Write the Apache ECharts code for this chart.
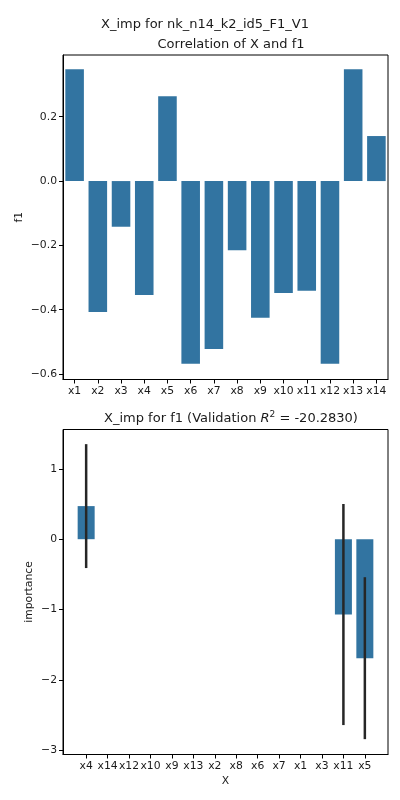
<!DOCTYPE html>
<html>
<head>
<meta charset="utf-8">
<script src="https://cdn.jsdelivr.net/npm/echarts@6/dist/echarts.min.js"></script>
<style>
  html, body { margin: 0; padding: 0; background: #fff; }
  #chart { width: 400px; height: 800px; }
</style>
</head>
<body>
<div id="chart"></div>
<script>
/* Two stacked panels: correlation bars and importance bars with error bars. */
const corrCats = ["x1", "x2", "x3", "x4", "x5", "x6", "x7", "x8", "x9", "x10", "x11", "x12", "x13", "x14"];
const corrValues = [0.348, -0.407, -0.142, -0.354, 0.264, -0.568, -0.522, -0.215, -0.425, -0.348, -0.341, -0.568, 0.348, 0.140];
const corrTicks = [-0.6, -0.4, -0.2, 0.0, 0.2];

const impCats = ["x4", "x14", "x12", "x10", "x9", "x13", "x2", "x8", "x6", "x7", "x1", "x3", "x11", "x5"];
const impMeans = [0.47, 0, 0, 0, 0, 0, 0, 0, 0, 0, 0, 0, -1.07, -1.69];
const impErrs = [0.88, 0, 0, 0, 0, 0, 0, 0, 0, 0, 0, 0, 1.57, 1.15];
const impTicks = [-3, -2, -1, 0, 1];

(function () {
  "use strict";
  const ink = "#1a1a1a";
  const barColor = "#3274a1";
  const font = "DejaVu Sans";
  const tickSize = 10.8;
  const titleSize = 13;
  const minus = function (s) { return String(s).replace("-", "\u2212"); };

  const chart = echarts.init(document.getElementById("chart"), null, { renderer: "canvas" });

  const axisCommon = {
    axisLine: { show: true, onZero: false, lineStyle: { color: "#000", width: 1 } },
    splitLine: { show: false },
    nameMoveOverlap: false,
    nameTextStyle: { color: ink, fontFamily: font, fontSize: tickSize },
  };
  const titleStyle = { color: ink, fontFamily: font, fontSize: titleSize, fontWeight: "normal" };

  chart.setOption({
    animation: false,
    backgroundColor: "#fff",
    title: [
      { text: "X_imp for nk_n14_k2_id5_F1_V1", left: 200, top: 13, textAlign: "center", textStyle: titleStyle },
      { text: "Correlation of X and f1", left: 226, top: 33.5, textAlign: "center", textStyle: titleStyle },
      { text: "X_imp for f1 (Validation {i|R}{sup|2} = -20.2830)", left: 226, top: 405.5, textAlign: "center",
        textStyle: Object.assign({}, titleStyle, {
          rich: {
            i: { fontFamily: font, fontSize: titleSize, fontStyle: "italic", color: ink },
            sup: { fontFamily: font, fontSize: 9, color: ink, padding: [0, 0, 8, 0] },
          },
        }) },
    ],
    grid: [
      { left: 63, top: 55, width: 325, height: 324.5, show: true, borderColor: "#000", borderWidth: 1 },
      { left: 63, top: 429.5, width: 325, height: 325, show: true, borderColor: "#000", borderWidth: 1 },
    ],
    xAxis: [
      Object.assign({}, axisCommon, {
        gridIndex: 0, type: "category", data: corrCats, boundaryGap: true,
        axisTick: { show: true, alignWithLabel: true, length: 4, lineStyle: { color: "#000" } },
        axisLabel: { color: ink, fontFamily: font, fontSize: tickSize, margin: 6, interval: 0 },
      }),
      Object.assign({}, axisCommon, {
        gridIndex: 1, type: "value", min: -1.08, max: 14.08,
        name: "X", nameLocation: "middle", nameGap: 21,
        axisTick: { show: true, length: 4, lineStyle: { color: "#000" },
          customValues: impCats.map(function (_, i) { return i; }) },
        axisLabel: { color: ink, fontFamily: font, fontSize: tickSize, margin: 6,
          customValues: impCats.map(function (_, i) { return i; }),
          formatter: function (v) { return impCats[Math.round(v)] || ""; } },
      }),
    ],
    yAxis: [
      Object.assign({}, axisCommon, {
        gridIndex: 0, type: "value", min: -0.617, max: 0.392,
        name: "f1", nameLocation: "middle", nameGap: 38, nameRotate: 90,
        axisTick: { show: true, length: 4, lineStyle: { color: "#000" }, customValues: corrTicks },
        axisLabel: { color: ink, fontFamily: font, fontSize: tickSize, margin: 6, customValues: corrTicks,
          formatter: function (v) { return minus(v.toFixed(1)); } },
      }),
      Object.assign({}, axisCommon, {
        gridIndex: 1, type: "value", min: -3.058, max: 1.558,
        name: "importance", nameLocation: "middle", nameGap: 28.5, nameRotate: 90,
        axisTick: { show: true, length: 4, lineStyle: { color: "#000" }, customValues: impTicks },
        axisLabel: { color: ink, fontFamily: font, fontSize: tickSize, margin: 6, customValues: impTicks,
          formatter: function (v) { return minus(v.toFixed(0)); } },
      }),
    ],
    series: [
      {
        type: "bar", xAxisIndex: 0, yAxisIndex: 0, data: corrValues,
        barCategoryGap: "20%", itemStyle: { color: barColor },
      },
      {
        type: "bar", xAxisIndex: 1, yAxisIndex: 1, barWidth: 17,
        data: impMeans.map(function (v, i) { return [i, v]; }),
        itemStyle: { color: barColor }, z: 2,
      },
      {
        type: "custom", xAxisIndex: 1, yAxisIndex: 1, z: 3,
        data: impMeans.map(function (v, i) { return [i, v, impErrs[i]]; }),
        renderItem: function (params, api) {
          const err = api.value(2);
          if (!err) return null;
          const x = api.value(0), m = api.value(1);
          const hi = api.coord([x, m + err]);
          const lo = api.coord([x, m - err]);
          return {
            type: "line",
            shape: { x1: hi[0], y1: hi[1], x2: lo[0], y2: lo[1] },
            style: { stroke: "#262626", lineWidth: 2.5 },
          };
        },
      },
    ],
  });
})();
</script>
</body>
</html>
